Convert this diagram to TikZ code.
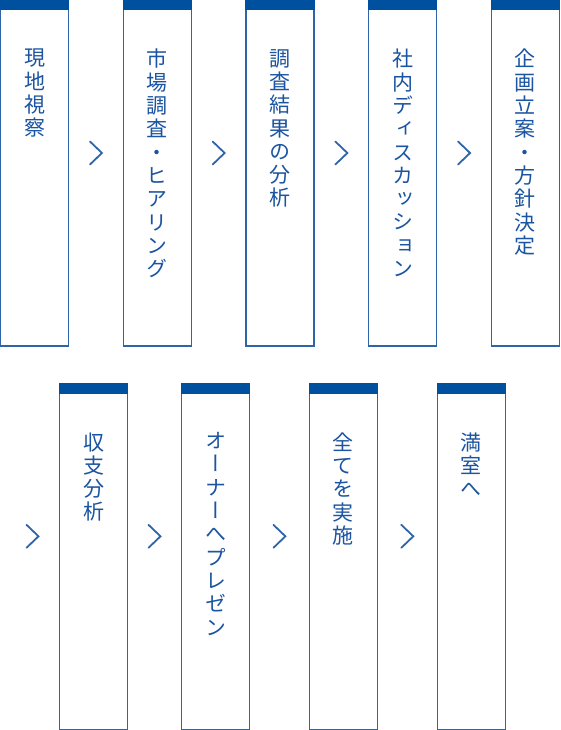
\documentclass[tikz,border=0pt]{standalone}
\usepackage{fontspec}
\newfontfamily\jpfont[RawFeature=+vert]{Noto Sans CJK JP}
\usepackage{xcolor}
\definecolor{boxborder}{HTML}{2E64AA}
\definecolor{barcolor}{HTML}{0050A0}
\definecolor{textcolor}{HTML}{1B54A0}
\usepackage{tikz}
\usetikzlibrary{positioning,calc}
\tikzset{
    stepbox/.style={
        rectangle,
        draw=boxborder,
        fill=white,
        minimum width=68pt,
        minimum height=346pt,
        inner sep=0pt,
        outer sep=0pt,
        line width=1.2pt,
    },
    stepbar/.style={
        fill=barcolor,
    },
    steptext/.style={
        anchor=north,
        align=center,
        inner sep=0pt,
        text=textcolor,
        font=\jpfont\fontsize{21pt}{23.3pt}\selectfont,
    },
    chevron/.style={
        draw=boxborder,
        line width=1.8pt,
        line cap=round,
        line join=miter,
    },
}

\begin{document}
\begin{tikzpicture}[x=1pt,y=1pt]
    \useasboundingbox (0,0) rectangle (560,-730);

    % top row
    \node[stepbox, anchor=north west] (s1) at (0.6,0) {};
    \node[stepbox, right=54.7pt of s1] (s2) {};
    \node[stepbox, right=54.7pt of s2] (s3) {};
    \node[stepbox, right=54.7pt of s3] (s4) {};
    \node[stepbox, right=54.7pt of s4] (s5) {};

    % bottom row
    \node[stepbox, anchor=north west] (s6) at (59.5,-383.3) {};
    \node[stepbox, right=54pt of s6] (s7) {};
    \node[stepbox, right=59.8pt of s7] (s8) {};
    \node[stepbox, right=60pt of s8] (s9) {};

    \foreach \s in {s1,s2,s3,s4,s5,s6,s7,s8,s9}
        \fill[stepbar] ([xshift=-0.6pt,yshift=0.6pt]\s.north west) rectangle ([xshift=0.6pt,yshift=-10.4pt]\s.north east);

    % labels
    \node[steptext, below=49pt of s1.north] (t1) {現\\地\\視\\察};
    \node[steptext, below=49pt of s2.north] (t2) {市\\場\\調\\査\\・\\ヒ\\ア\\リ\\ン\\グ};
    \node[steptext, below=49pt of s3.north] (t3) {調\\査\\結\\果\\の\\分\\析};
    \node[steptext, below=49pt of s4.north] (t4) {社\\内\\デ\\ィ\\ス\\カ\\ッ\\シ\\ョ\\ン};
    \node[steptext, below=49pt of s5.north] (t5) {企\\画\\立\\案\\・\\方\\針\\決\\定};
    \node[steptext, below=49pt of s6.north] (t6) {収\\支\\分\\析};
    \node[steptext, below=49pt of s7.north] (t7) {オ\\ー\\ナ\\ー\\へ\\プ\\レ\\ゼ\\ン};
    \node[steptext, below=49pt of s8.north] (t8) {全\\て\\を\\実\\施};
    \node[steptext, below=49pt of s9.north] (t9) {満\\室\\へ};

    % chevrons between steps
    \foreach \a/\b in {s1/s2,s2/s3,s3/s4,s4/s5,s6/s7,s7/s8,s8/s9}
        \draw[chevron] ($(\a.east)!0.5!(\b.west)+(-6,31.5)$) -- ++(12,-11.5) -- ++(-12,-11.5);
    \draw[chevron] ($(s6.west)+(-33,31.5)$) -- ++(12,-11.5) -- ++(-12,-11.5);
\end{tikzpicture}
\end{document}
